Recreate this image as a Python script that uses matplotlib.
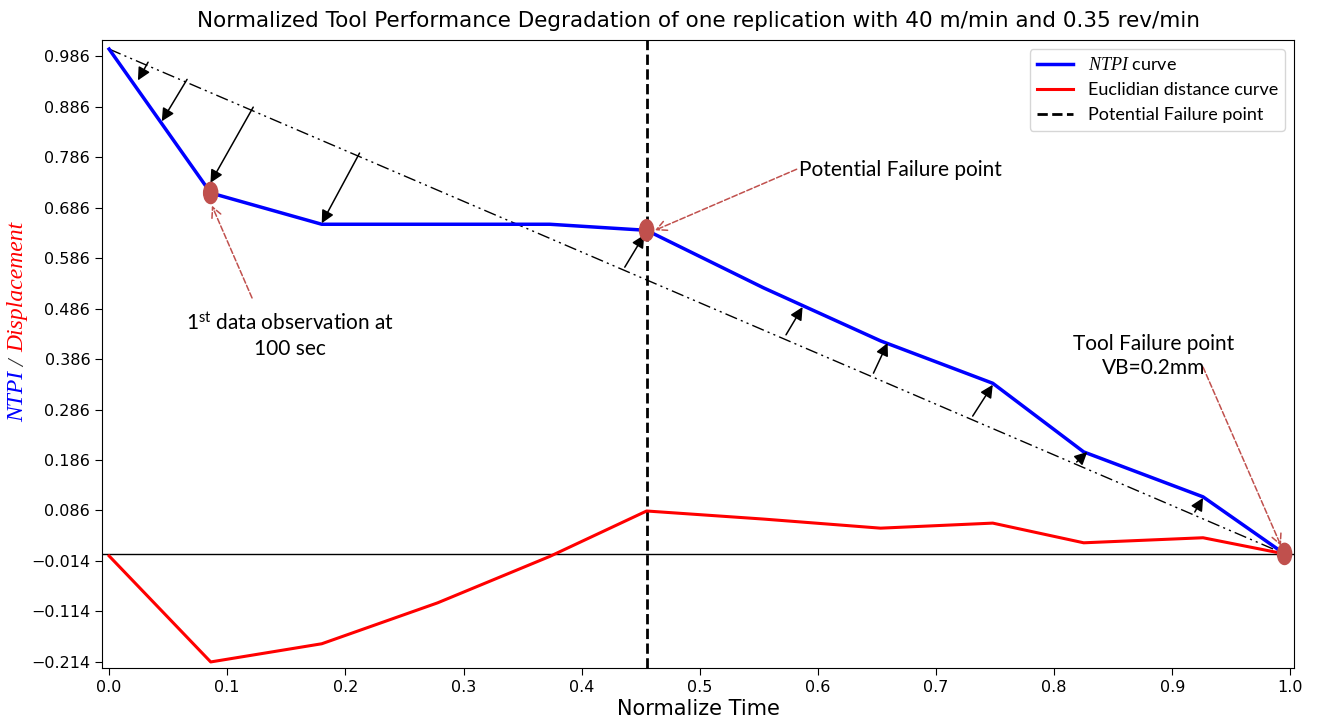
import matplotlib
matplotlib.use('Agg')
import matplotlib.pyplot as plt
from matplotlib.patches import Ellipse

plt.rcParams['mathtext.fontset'] = 'custom'
plt.rcParams['mathtext.it'] = 'Liberation Serif:italic'
plt.rcParams['mathtext.rm'] = 'Lato'

# данные (нормированное время)
t = [0.0, 0.086, 0.180, 0.278, 0.373, 0.455, 0.554, 0.653, 0.748, 0.825, 0.926, 0.995]
ntpi = [1.0, 0.715, 0.653, 0.653, 0.653, 0.641, 0.527, 0.422, 0.338, 0.202, 0.113, 0.0]
euclid = [-0.004, -0.214, -0.178, -0.097, -0.005, 0.085, 0.069, 0.051, 0.061, 0.022, 0.032, 0.0]

failure_t = 0.455

# отмеченные точки
mark_t = [0.086, 0.455, 0.995]
mark_v = [0.715, 0.641, 0.0]

# стрелки от прямой к кривой: (хвост t, хвост y, конец t, конец y)
arr_tail_t = [0.033, 0.066, 0.122, 0.212, 0.4365, 0.573, 0.647, 0.731, 0.819, 0.919]
arr_tail_v = [0.974, 0.940, 0.885, 0.794, 0.568, 0.434, 0.358, 0.273, 0.182, 0.083]
arr_head_t = [0.0244, 0.0446, 0.0858, 0.180, 0.453, 0.587, 0.659, 0.748, 0.828, 0.926]
arr_head_v = [0.938, 0.857, 0.735, 0.655, 0.632, 0.489, 0.418, 0.335, 0.202, 0.111]

yticks = [0.986 - 0.1 * k for k in range(13)]
xticks = [0.1 * k for k in range(11)]

fig = plt.figure(figsize=(13.18, 7.22), dpi=100)
ax = fig.add_axes([0.0774, 0.0748, 0.9044, 0.8698])

ax.plot(t, ntpi, color='blue', lw=2.5, label=r'$\mathit{NTPI}$ curve', zorder=3)
ax.plot(t, euclid, color='red', lw=2.2, label='Euclidian distance curve', zorder=3)
ax.axvline(failure_t, color='black', ls='--', lw=2, label='Potential Failure point', zorder=2)
ax.axhline(0, color='black', lw=1, zorder=1)
ax.plot([t[0], t[-1]], [ntpi[0], ntpi[-1]], color='black', lw=1, ls=(0, (9, 3, 1.5, 3, 1.5, 3)), zorder=2)

for x0, y0, x1, y1 in zip(arr_tail_t, arr_tail_v, arr_head_t, arr_head_v):
    ax.annotate('', xy=(x1, y1), xytext=(x0, y0),
                arrowprops=dict(arrowstyle='-|>', color='black', lw=1.1,
                                mutation_scale=19, shrinkA=0, shrinkB=0), zorder=4)

for mt, mv in zip(mark_t, mark_v):
    ax.add_patch(Ellipse((mt, mv), 0.012, 0.042, color='#C0504D', zorder=5))

red_arrow = dict(arrowstyle='->', color='#C0504D', lw=1.1, ls='--',
                 mutation_scale=18, shrinkA=0, shrinkB=0)
ax.annotate('', xy=(0.087, 0.690), xytext=(0.121, 0.507), arrowprops=red_arrow)
ax.annotate('', xy=(0.462, 0.641), xytext=(0.582, 0.762), arrowprops=red_arrow)
ax.annotate('', xy=(0.992, 0.016), xytext=(0.926, 0.370), arrowprops=red_arrow)

ax.text(0.153, 0.432, '1$^{\\mathrm{st}}$ data observation at\n100 sec', fontfamily='Lato',
        fontsize=15, ha='center', va='center', multialignment='center', linespacing=1.3)
ax.text(0.584, 0.760, 'Potential Failure point', fontfamily='Lato', fontsize=15,
        ha='left', va='center')
ax.text(0.884, 0.392, 'Tool Failure point\nVB=0.2mm', fontfamily='Lato', fontsize=15,
        ha='center', va='center', multialignment='center', linespacing=1.3)

ax.set_xlim(-0.006, 1.003)
ax.set_ylim(-0.226, 1.018)
ax.set_yticks(yticks)
ax.set_yticklabels([f'{v:.3f}'.replace('-', '\u2212') for v in yticks])
ax.set_xticks(xticks)
ax.set_xticklabels([f'{v:.1f}' for v in xticks])
ax.tick_params(labelsize=11.5, length=5)

ax.set_xlabel('Normalize Time', fontsize=15, labelpad=3)
ax.set_title('Normalized Tool Performance Degradation of one replication with 40 m/min and 0.35 rev/min',
             fontsize=15.5, pad=9)

ax.legend(loc='upper right', prop={'family': 'Lato', 'size': 13}, borderaxespad=0.5)

# подпись оси Y из трёх цветных частей, выложенных подряд
parts = [('NTPI', 'blue'), (' / ', '#333333'), ('Displacement', 'red')]
fig.canvas.draw()
renderer = fig.canvas.get_renderer()
texts = []
for s, c in parts:
    texts.append(fig.text(0, 0, s, color=c, fontfamily='Liberation Serif', style='italic',
                          fontsize=17, rotation=90, ha='center', va='bottom'))
heights = [tx.get_window_extent(renderer).height for tx in texts]
total = sum(heights)
y_pix = (722 - 322) - total / 2
for tx, h in zip(texts, heights):
    tx.set_position((18 / 1318, y_pix / 722))
    y_pix += h

fig.savefig('out.png', dpi=100)
